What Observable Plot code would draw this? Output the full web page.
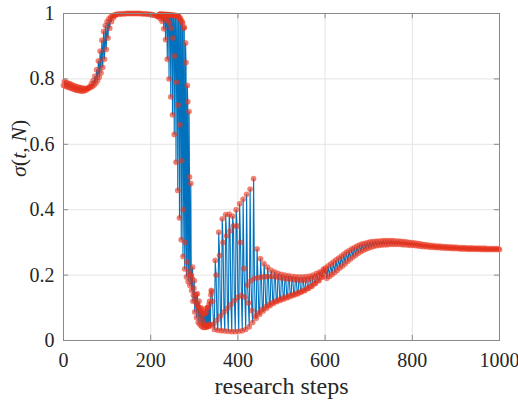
<!DOCTYPE html>
<html>
<head>
<meta charset="utf-8">
<script src="https://cdn.jsdelivr.net/npm/d3@7"></script>
<script src="https://cdn.jsdelivr.net/npm/@observablehq/plot@0.6"></script>
<style>
  html, body { margin: 0; padding: 0; background: #fff; }
  #chart { width: 518px; height: 405px; }
</style>
</head>
<body>
<div id="chart"></div>
<script>
// ---- axis ticks and labels ----
const xTicks = [0, 200, 400, 600, 800, 1000];
const yTicks = [0, 0.2, 0.4, 0.6, 0.8, 1];
const xLabel = "research steps";
const yLabel = "σ(t, N)";

// ---- series values, grouped by interleaved branches ----
// steps 0..116 every 4 (leading branch)
const r1a = [0.780,0.778,0.776,0.774,0.772,0.770,0.768,0.766,0.765,0.764,0.763,0.763,0.764,0.766,0.770,0.776,0.785,0.795,0.808,0.828,0.855,0.885,0.918,0.945,0.963,0.975,0.983,0.989,0.993,0.995];
// steps 2..118 every 4 (lagging branch)
const r1b = [0.792,0.789,0.787,0.785,0.783,0.780,0.778,0.776,0.775,0.773,0.772,0.771,0.771,0.771,0.772,0.774,0.777,0.781,0.787,0.795,0.805,0.818,0.835,0.860,0.890,0.925,0.955,0.975,0.987,0.993];
// steps 120..216 every 4 (plateau)
const r2 = [0.997,0.998,0.998,0.999,0.999,0.999,1.000,1.000,1.000,1.000,1.000,1.000,1.000,1.000,1.000,0.999,0.999,0.999,0.998,0.998,0.997,0.996,0.995,0.993,0.991];
// collapse, four branches every 4 steps starting 218, 219, 220, 221
const rA = [0.990,0.985,0.976,0.953,0.920,0.860,0.800,0.745,0.690,0.630,0.545,0.459,0.375,0.308,0.257,0.219,0.194,0.180,0.168,0.153,0.138,0.122,0.110,0.100,0.097,0.090,0.083,0.097,0.100,0.110,0.140];
const rB = [0.995,0.993,0.990,0.987,0.983,0.978,0.970,0.955,0.925,0.870,0.790,0.720,0.660,0.550,0.400,0.300,0.240,0.210,0.200,0.190,0.160,0.140,0.143,0.120,0.100,0.085,0.080,0.085,0.100,0.120,0.153];
const rC = [0.997,0.997,0.997,0.996,0.996,0.996,0.995,0.995,0.994,0.993,0.992,0.990,0.985,0.975,0.955,0.910,0.780,0.700,0.480,0.224,0.183,0.140,0.107,0.087,0.071,0.060,0.050,0.045,0.045,0.050];
const rD = [0.998,0.998,0.997,0.997,0.997,0.996,0.996,0.995,0.995,0.994,0.993,0.990,0.980,0.970,0.958,0.850,0.730,0.500,0.200,0.120,0.087,0.070,0.055,0.048,0.043,0.040,0.040,0.041,0.043,0.046];
// oscillating region, four branches every 8 steps starting 340, 342, 344, 346
const rT = [0.150,0.245,0.331,0.372,0.385,0.386,0.380,0.400,0.418,0.432,0.447,0.463,0.495,0.280,0.250,0.235,0.224,0.215,0.210,0.205,0.202,0.200,0.198,0.196,0.195,0.194,0.194,0.195,0.197,0.200,0.205,0.210,0.218];
const rU = [0.120,0.200,0.260,0.300,0.320,0.335,0.350,0.350,0.300,0.220,0.170,0.183,0.190,0.192,0.194,0.195,0.196,0.196,0.195,0.193,0.190,0.189,0.188,0.187,0.185,0.184,0.184,0.185,0.188,0.193,0.199,0.206,0.214];
const rM = [0.050,0.062,0.075,0.087,0.098,0.110,0.122,0.132,0.138,0.132,0.115,0.092,0.075,0.085,0.095,0.103,0.110,0.116,0.121,0.126,0.130,0.134,0.138,0.141,0.145,0.149,0.154,0.160,0.167,0.175,0.184,0.194,0.205];
const rBot = [0.034,0.031,0.030,0.029,0.028,0.027,0.027,0.028,0.030,0.034,0.042,0.055,0.068,0.080,0.090,0.099,0.107,0.114,0.119,0.123,0.127,0.131,0.135,0.139,0.143,0.148,0.153,0.159,0.166,0.174,0.183,0.194];
// settling region, two branches every 6 steps starting 601 and 604
const r5hi = [0.222,0.228,0.234,0.240,0.246,0.252,0.258,0.264,0.270,0.275,0.280,0.284,0.288,0.292,0.295,0.297,0.299,0.301,0.302,0.303,0.304,0.304,0.305,0.305,0.305,0.305,0.305,0.304,0.304,0.303,0.302,0.301,0.300,0.299,0.298,0.297,0.296,0.294,0.293,0.292,0.291,0.290,0.289,0.288,0.288,0.287,0.287,0.286,0.286,0.285,0.285,0.284,0.284,0.284,0.283,0.283,0.283,0.282,0.282,0.282,0.282,0.282,0.281,0.281,0.281,0.281,0.281];
const r5lo = [0.190,0.196,0.202,0.208,0.215,0.222,0.228,0.235,0.242,0.249,0.255,0.261,0.267,0.272,0.276,0.280,0.283,0.286,0.288,0.290,0.291,0.292,0.293,0.293,0.294,0.294,0.294,0.294,0.294,0.293,0.293,0.292,0.291,0.291,0.290,0.289,0.288,0.287,0.287,0.286,0.285,0.285,0.284,0.284,0.283,0.283,0.282,0.282,0.281,0.281,0.281,0.280,0.280,0.280,0.279,0.279,0.279,0.279,0.279,0.278,0.278,0.278,0.278,0.278,0.278,0.278,0.278];

// branch table: first step, step stride, values
const branches = [
  {start: 0, stride: 4, values: r1a},
  {start: 2, stride: 4, values: r1b},
  {start: 120, stride: 4, values: r2},
  {start: 218, stride: 4, values: rA},
  {start: 219, stride: 4, values: rB},
  {start: 220, stride: 4, values: rC},
  {start: 221, stride: 4, values: rD},
  {start: 340, stride: 8, values: rT},
  {start: 342, stride: 8, values: rU},
  {start: 344, stride: 8, values: rM},
  {start: 346, stride: 8, values: rBot},
  {start: 601, stride: 6, values: r5hi},
  {start: 604, stride: 6, values: r5lo}
];

const data = branches
  .flatMap(b => b.values.map((v, i) => ({step: b.start + i * b.stride, sigma: v})))
  .sort((a, b) => a.step - b.step);

const axisColor = "#8a8a8a";
const gridColor = "#e4e4e4";

const chart = Plot.plot({
  width: 518,
  height: 405,
  marginLeft: 63,
  marginRight: 19,
  marginTop: 13,
  marginBottom: 65,
  style: {fontFamily: "'Liberation Serif', 'DejaVu Serif', serif", fontSize: "20px", color: "#262626", background: "#fff"},
  x: {domain: [0, 1000]},
  y: {domain: [0, 1]},
  marks: [
    Plot.gridX(xTicks, {stroke: gridColor, strokeOpacity: 1}),
    Plot.gridY(yTicks, {stroke: gridColor, strokeOpacity: 1}),
    Plot.line(data, {x: "step", y: "sigma", stroke: "#0072BD", strokeWidth: 1.1}),
    Plot.dot(data, {x: "step", y: "sigma", r: 2.7, fill: "#e8331c", fillOpacity: 0.6, stroke: "#e8331c", strokeOpacity: 0.3, strokeWidth: 0.6}),
    Plot.frame({stroke: axisColor, strokeWidth: 1}),
    Plot.ruleX(xTicks, {x: d => d, y1: 0, y2: 0.016, stroke: axisColor}),
    Plot.ruleX(xTicks, {x: d => d, y1: 1, y2: 0.984, stroke: axisColor}),
    Plot.ruleY(yTicks, {y: d => d, x1: 0, x2: 11.5, stroke: axisColor}),
    Plot.ruleY(yTicks, {y: d => d, x1: 1000, x2: 988.5, stroke: axisColor}),
    Plot.axisX(xTicks, {tickSize: 0, tickPadding: 12, label: null, tickFormat: d => String(d)}),
    Plot.axisY(yTicks, {tickSize: 0, tickPadding: 9, label: null, tickFormat: d => String(d)}),
    Plot.text([xLabel], {text: d => d, frameAnchor: "bottom", lineAnchor: "middle", dy: 46, fontSize: 24}),
    Plot.text([yLabel], {text: d => d, frameAnchor: "left", dx: -45, rotate: -90, fontSize: 22})
  ]
});
document.getElementById("chart").appendChild(chart);

// typeset the y label like math: italic symbols, upright punctuation
d3.select(chart).selectAll("text")
  .filter(function() { return this.textContent === yLabel; })
  .each(function() {
    const t = d3.select(this);
    t.text(null);
    const parts = [["σ", true], ["(", false], ["t", true], [", ", false], ["N", true], [")", false]];
    for (const [s, it] of parts) t.append("tspan").attr("font-style", it ? "italic" : "normal").text(s);
  });
</script>
</body>
</html>
